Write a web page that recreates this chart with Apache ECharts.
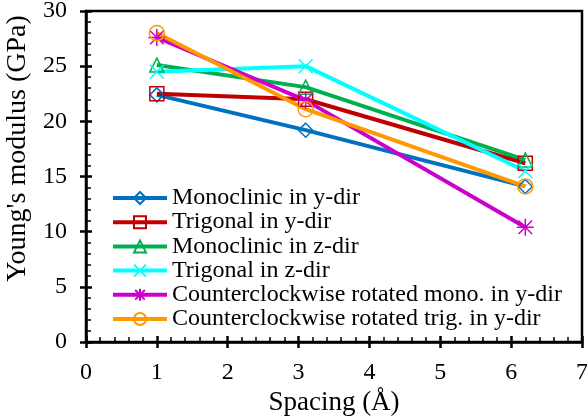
<!DOCTYPE html>
<html>
<head>
<meta charset="utf-8">
<script src="https://cdn.jsdelivr.net/npm/echarts@6/dist/echarts.min.js"></script>
<style>
  html, body { margin: 0; padding: 0; background: #fff; }
  #chart { width: 587px; height: 419px; }
</style>
</head>
<body>
<div id="chart"></div>
<script>
// spacing values (Å)
const spacing = [1, 3.1, 6.2];
// Young's modulus (GPa) per structure
const monoY = [22.4, 19.2, 14.1];
const trigY = [22.5, 22.0, 16.2];
const monoZ = [25.1, 23.1, 16.5];
const trigZ = [24.5, 25.0, 15.5];
const rotMonoY = [27.6, 21.9, 10.4];
const rotTrigY = [28.0, 21.1, 14.1];

const names = [
  'Monoclinic in y-dir',
  'Trigonal in y-dir',
  'Monoclinic in z-dir',
  'Trigonal in z-dir',
  'Counterclockwise rotated mono. in y-dir',
  'Counterclockwise rotated trig. in y-dir'
];
const values = [monoY, trigY, monoZ, trigZ, rotMonoY, rotTrigY];
const colors = ['#0070C0', '#C00000', '#00B050', '#00FFFF', '#CC00CC', '#FF9900'];
// 十字和星号用path画
const symbols = [
  'diamond',
  'rect',
  'triangle',
  'path://M0,0L1,1M1,0L0,1',
  'path://M0.5,0L0.5,1M0.1,0.1L0.9,0.9M0.9,0.1L0.1,0.9M0,0.5L1,0.5',
  'circle'
];
const sizes = [14, 14, 14, 14, 17, 15];

const font = 'Liberation Serif';

let series = [];
for (let i = 0; i < names.length; i++) {
  series.push({
    name: names[i],
    type: 'line',
    xAxisIndex: 0,
    data: spacing.map((x, j) => [x, values[i][j]]),
    symbol: symbols[i],
    symbolSize: sizes[i],
    showAllSymbol: true,
    lineStyle: { color: colors[i], width: 4 },
    itemStyle: { color: 'rgba(0,0,0,0)', borderColor: colors[i], borderWidth: 1.5 },
    emphasis: { disabled: true },
    animation: false
  });
}

const chart = echarts.init(document.getElementById('chart'));
const option = {
  backgroundColor: '#fff',
  animation: false,
  grid: {
    left: 86, right: 5, top: 11, bottom: 77,
    outerBoundsMode: 'none',
    containLabel: false,
    show: true, borderColor: '#000', borderWidth: 2.5
  },
  legend: {
    orient: 'vertical',
    left: 111, top: 186,
    padding: 0,
    itemWidth: 54, itemHeight: 15, itemGap: 0.2,
    lineStyle: { width: 4 },
    textStyle: { fontFamily: font, fontSize: 24, lineHeight: 24, color: '#000' },
    data: names
  },
  xAxis: [{
    type: 'value',
    position: 'bottom',
    min: 0, max: 7, interval: 1,
    name: 'Spacing (Å)',
    nameLocation: 'middle',
    nameGap: 42,
    nameTextStyle: { fontFamily: font, fontSize: 27, color: '#000' },
    axisLine: { lineStyle: { color: '#000', width: 2.5 } },
    axisTick: { inside: true, length: 6, lineStyle: { color: '#000', width: 2.5 } },
    minorTick: { show: true, splitNumber: 5, length: 5, lineStyle: { color: '#000', width: 1.5 } },
    axisLabel: { fontFamily: font, fontSize: 24, color: '#000', margin: 19 },
    splitLine: { show: false }
  }, {
    type: 'value',
    position: 'bottom',
    min: 0, max: 7, interval: 1,
    axisLine: { show: false },
    axisTick: { inside: false, length: 6, lineStyle: { color: '#000', width: 2.5 } },
    axisLabel: { show: false },
    splitLine: { show: false }
  }],
  yAxis: [{
    type: 'value',
    position: 'left',
    min: 0, max: 30, interval: 5,
    name: "Young's modulus (GPa)",
    nameLocation: 'middle',
    nameGap: 48,
    nameTextStyle: { fontFamily: font, fontSize: 28, color: '#000', padding: [0, 0, 0, 56] },
    axisLine: { show: true, lineStyle: { color: '#000', width: 2.5 } },
    axisTick: { show: true, inside: true, length: 6, lineStyle: { color: '#000', width: 2.5 } },
    minorTick: { show: true, splitNumber: 5, length: 5, lineStyle: { color: '#000', width: 1.5 } },
    axisLabel: { fontFamily: font, fontSize: 24, color: '#000', margin: 19 },
    splitLine: { show: false }
  }, {
    type: 'value',
    position: 'left',
    min: 0, max: 30, interval: 5,
    axisLine: { show: false },
    axisTick: { show: true, inside: false, length: 6, lineStyle: { color: '#000', width: 2.5 } },
    axisLabel: { show: false },
    splitLine: { show: false }
  }],
  series: series
};
chart.setOption(option);
</script>
</body>
</html>
